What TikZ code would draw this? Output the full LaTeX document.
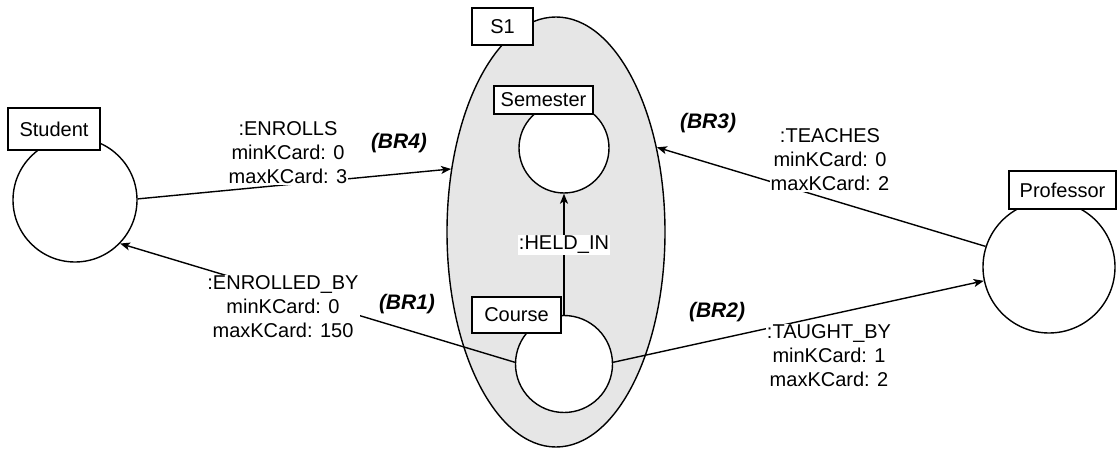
\documentclass[tikz,border=0pt]{standalone}
\usepackage{fontspec}
\setmainfont{Liberation Sans}
\usetikzlibrary{shapes.geometric,arrows.meta}
\definecolor{scopefill}{RGB}{230,230,230}
\begin{document}
\begin{tikzpicture}[x=1pt,y=-1pt,
  every node/.style={font=\fontsize{20}{24}\selectfont},
  entity/.style={circle, draw, line width=1.4pt, fill=white, inner sep=0pt, minimum size=#1},
  tag/.style 2 args={draw, line width=1.4pt, fill=white, inner sep=0pt,
    minimum width=#1, minimum height=#2},
  rel/.style={line width=1.4pt, -{Stealth[length=10pt,width=8pt,inset=2.5pt]}},
  card/.style={fill=white, align=center, inner sep=1pt},
  rule/.style={font=\bfseries\itshape\fontsize{21}{25}\selectfont, inner sep=0pt}]
\useasboundingbox (0,0) rectangle (1117,449);

% subgraph S1
\node[ellipse, draw, line width=1.4pt, fill=scopefill, inner sep=0pt,
      minimum width=218pt, minimum height=430pt] (s1) at (556,232) {};
\node[tag={61pt}{37pt}] (s1tag) at (502.5,26.5) {S1};

% entity nodes with their type tags
\node[entity=90pt] (sem) at (564,148) {};
\node[tag={99pt}{28pt}] (semtag) at (543.5,100) {Semester};

\node[entity=97pt] (crs) at (564,364) {};
\node[tag={89pt}{36pt}] (crstag) at (516.5,315) {Course};

\node[entity=124pt] (stu) at (75,200) {};
\node[tag={92pt}{42pt}] (stutag) at (54,129) {Student};

\node[entity=132pt] (prof) at (1049,267) {};
\node[tag={107pt}{38pt}] (proftag) at (1062.5,190) {Professor};

% relationships
\draw[rel] (stu.1) -- (s1.149);
\draw[rel] (crs.178) -- (stu.-44);
\draw[rel] (prof.162) -- (s1.40);
\draw[rel] (crs.2) -- (prof.192);
\draw[rel] (crs.north) -- (sem.south);

% relationship labels
\node[card] (lenr) at (288,153) {:ENROLLS\\minKCard: 0\\maxKCard: 3};
\node[card] (lenrby) at (283,307) {:ENROLLED\_BY\\minKCard: 0\\maxKCard: 150};
\node[card] (lteach) at (830,160) {:TEACHES\\minKCard: 0\\maxKCard: 2};
\node[card] (ltaught) at (829,356) {:TAUGHT\_BY\\minKCard: 1\\maxKCard: 2};
\node[card] (lheld) at (564,245) {:HELD\_IN};

% business rules
\node[rule] (br4) at (399,143) {(BR4)};
\node[rule] (br1) at (407,304) {(BR1)};
\node[rule] (br3) at (708,123) {(BR3)};
\node[rule] (br2) at (717,312) {(BR2)};
\end{tikzpicture}
\end{document}
